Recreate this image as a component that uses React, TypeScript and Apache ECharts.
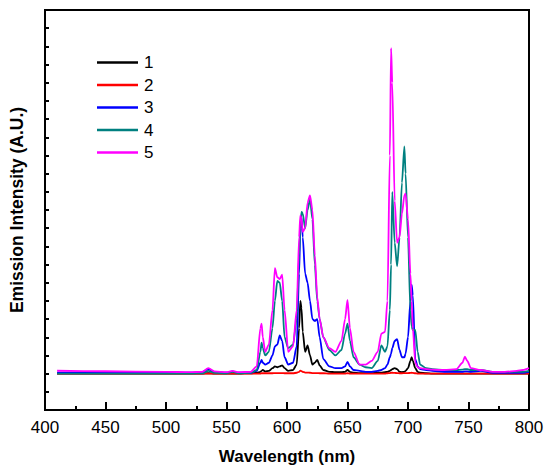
import React, { useEffect, useRef } from "react";
import * as echarts from "echarts";

const wavelengths = [
  410, 450, 500, 520, 530, 535, 540, 550, 555, 560, 570, 575, 578, 579, 580, 582, 585, 588, 590, 592,
  594, 596, 598, 601, 605, 608, 610, 611, 612, 613, 615, 617, 619, 621, 623, 625, 627, 630, 635, 640,
  645, 648, 650, 652, 655, 660, 665, 670, 675, 678, 681, 683, 685, 686, 687, 689, 691, 693, 695, 697,
  698, 700, 702, 703, 704, 706, 708, 710, 715, 720, 730, 740, 745, 747, 749, 752, 760, 770, 780, 790,
  795, 800,
];

const series1 = [
  0, 0, 0, 0, 0, 0.02, 0, 0, 0, 0, 0.02, 0.05, 0.1, 0.15, 0.2, 0.12, 0.15, 0.3, 0.4, 0.35,
  0.4, 0.45, 0.3, 0.15, 0.2, 0.5, 2.5, 4.0, 3.6, 2.3, 1.2, 1.55, 1.0, 0.5, 0.6, 0.75, 0.45, 0.2, 0.1, 0.08,
  0.08, 0.1, 0.2, 0.1, 0.05, 0.03, 0.03, 0.03, 0.05, 0.05, 0.08, 0.1, 0.15, 0.2, 0.25, 0.3, 0.25, 0.1, 0.08, 0.1,
  0.15, 0.3, 0.7, 0.9, 0.7, 0.3, 0.1, 0.05, 0.02, 0, 0, 0, 0, 0, 0, 0, 0, 0, 0, 0,
  0, 0,
];

const series2 = [
  0, 0, 0, 0, 0, 0, 0, 0, 0, 0, 0, 0, 0, 0.02, 0.02, 0.02, 0.02, 0.02, 0.03, 0.03,
  0.03, 0.03, 0.02, 0.02, 0.02, 0.05, 0.1, 0.16, 0.14, 0.1, 0.06, 0.06, 0.05, 0.03, 0.03, 0.03, 0.02, 0.02, 0, 0,
  0, 0, 0.02, 0, 0, 0, 0, 0, 0, 0, 0, 0.02, 0.03, 0.05, 0.05, 0.04, 0.03, 0.02, 0.02, 0.03,
  0.03, 0.03, 0.04, 0.05, 0.04, 0.02, 0, 0, 0, 0, 0, 0, 0, 0, 0, 0, 0, 0, 0, 0,
  0, 0,
];

const series3 = [
  0.05, 0.05, 0.05, 0.05, 0.1, 0.25, 0.1, 0.05, 0.12, 0.05, 0.05, 0.15, 0.6, 0.75, 0.6, 0.5, 0.6, 1.0, 1.5, 1.6,
  2.1, 1.8, 0.9, 0.5, 0.6, 1.5, 5.5, 8.0, 8.6, 7.5, 5.5, 5.0, 4.0, 3.0, 2.9, 3.0, 2.0, 0.8, 0.4, 0.3,
  0.3, 0.4, 0.65, 0.4, 0.2, 0.15, 0.1, 0.1, 0.15, 0.2, 0.3, 0.5, 0.9, 1.1, 1.4, 1.8, 1.9, 1.3, 0.9, 0.9,
  1.1, 2.0, 4.0, 4.9, 4.3, 0.8, 0.4, 0.25, 0.2, 0.15, 0.1, 0.1, 0.1, 0.12, 0.12, 0.1, 0.15, 0.05, 0.05, 0.05,
  0.05, 0.1,
];

const series4 = [
  0, 0, 0, 0, 0.02, 0.15, 0.05, 0.02, 0.1, 0.02, 0.05, 0.2, 1.2, 1.7, 1.4, 1.0, 1.2, 2.5, 4.0, 5.1,
  5.0, 4.0, 2.0, 1.4, 1.6, 3.0, 6.5, 8.0, 8.9, 8.8, 8.0, 9.0, 9.6, 8.5, 6.0, 4.0, 3.0, 2.0, 1.3, 1.0,
  1.3, 2.2, 2.75, 1.8, 0.9, 0.5, 0.35, 0.3, 0.7, 1.55, 1.2, 1.5, 3.5, 6.0, 10.0, 7.2, 5.9, 7.5, 10.5, 12.5,
  11.0, 7.5, 3.5, 2.6, 2.4, 2.4, 1.2, 0.5, 0.3, 0.25, 0.2, 0.2, 0.22, 0.25, 0.25, 0.2, 0.2, 0.1, 0.1, 0.1,
  0.1, 0.15,
];

const series5 = [
  0.16, 0.13, 0.1, 0.08, 0.1, 0.3, 0.12, 0.08, 0.15, 0.08, 0.1, 0.4, 2.5, 2.75, 2.0, 1.2, 1.6, 3.5, 5.8, 5.3,
  5.2, 5.45, 3.5, 1.2, 1.5, 3.5, 7.5, 8.7, 8.5, 7.8, 8.0, 9.4, 9.8, 9.0, 6.5, 4.2, 3.0, 2.0, 1.4, 1.2,
  1.8, 3.0, 4.05, 2.5, 1.2, 0.5, 0.5, 0.7, 1.2, 2.2, 2.3, 4.0, 12.0, 17.9, 16.0, 9.5, 7.2, 7.5, 8.8, 9.8,
  9.9, 8.5, 5.5, 4.0, 2.5, 0.6, 0.35, 0.3, 0.25, 0.22, 0.2, 0.25, 0.6, 0.93, 0.7, 0.3, 0.2, 0.1, 0.1, 0.15,
  0.2, 0.3,
];

const seriesNames = ["1", "2", "3", "4", "5"];
const seriesColors = ["#000000", "#ff0000", "#0000ff", "#008080", "#ff00ff"];
const seriesValues = [series1, series2, series3, series4, series5];

const xTicks = { min: 400, max: 800, interval: 50 };
const yTicks = { min: -2, max: 20, interval: 1 };

const FONT = "'Liberation Sans', Arial, sans-serif";

export default function App() {
  const ref = useRef<HTMLDivElement>(null);
  useEffect(() => {
    if (!ref.current) return;
    const chart = echarts.init(ref.current, undefined, { renderer: "svg" });
    chart.setOption({
      animation: false,
      backgroundColor: "#ffffff",
      grid: {
        left: 44,
        right: 21,
        top: 10,
        bottom: 66,
        show: true,
        borderColor: "#000",
        borderWidth: 2,
        containLabel: false,
      },
      legend: {
        orient: "vertical",
        left: 97,
        top: 54,
        padding: 0,
        itemWidth: 41,
        itemHeight: 2.5,
        itemGap: 5.5,
        icon: "rect",
        data: seriesNames,
        textStyle: { fontFamily: FONT, fontSize: 17, color: "#000", padding: [0, 0, 0, 1] },
      },
      xAxis: {
        type: "value",
        min: xTicks.min,
        max: xTicks.max,
        interval: xTicks.interval,
        name: "Wavelength (nm)",
        nameLocation: "middle",
        nameGap: 38,
        nameTextStyle: { fontFamily: FONT, fontSize: 17, fontWeight: "bold", color: "#000" },
        axisLine: { show: true, onZero: false, lineStyle: { color: "#000", width: 2 } },
        axisTick: { show: true, inside: true, length: 8, lineStyle: { color: "#000", width: 2 } },
        minorTick: { show: true, splitNumber: 2, length: 4, lineStyle: { color: "#000", width: 2 } },
        axisLabel: { fontFamily: FONT, fontSize: 17, color: "#000", margin: 9 },
        splitLine: { show: false },
      },
      yAxis: {
        type: "value",
        min: yTicks.min,
        max: yTicks.max,
        interval: yTicks.interval,
        name: "Emission Intensity (A.U.)",
        nameLocation: "middle",
        nameGap: 19,
        nameTextStyle: { fontFamily: FONT, fontSize: 17.5, fontWeight: "bold", color: "#000" },
        axisLine: { show: true, onZero: false, lineStyle: { color: "#000", width: 2 } },
        axisTick: { show: true, inside: true, length: 4, lineStyle: { color: "#000", width: 2 } },
        axisLabel: { show: false },
        splitLine: { show: false },
      },
      series: seriesNames.map((name, i) => ({
        name,
        type: "line",
        showSymbol: false,
        symbol: "none",
        smooth: 0.25,
        smoothMonotone: "x",
        color: seriesColors[i],
        lineStyle: { color: seriesColors[i], width: 1.8 },
        data: wavelengths.map((w, j) => [w, seriesValues[i][j]]),
      })),
    });
    return () => chart.dispose();
  }, []);
  return (
    <div
      ref={ref}
      style={{ position: "fixed", left: 0, top: 0, width: 550, height: 476, background: "#fff" }}
    />
  );
}
